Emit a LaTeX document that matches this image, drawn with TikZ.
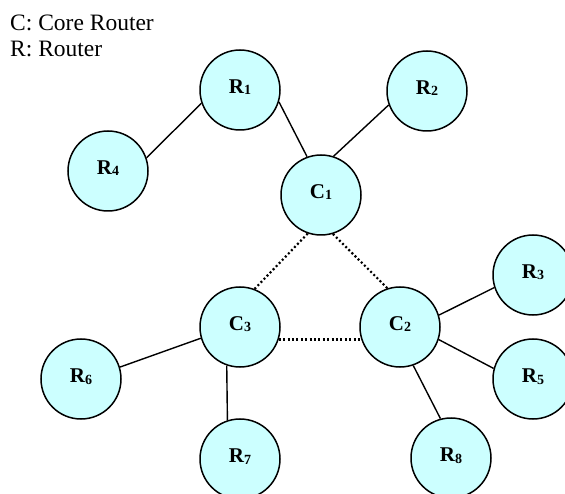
\documentclass[tikz,border=0pt]{standalone}
\usepackage{fontspec}
\setmainfont{Liberation Serif}
\definecolor{routerfill}{HTML}{CCFFFF}
\tikzset{
  router/.style={circle, draw=black, line width=1.5pt, fill=routerfill,
    minimum size=80pt, inner sep=0pt, text height=7pt, text depth=0pt,
    font=\fontsize{21}{22}\selectfont\bfseries},
  link/.style={line width=1.4pt},
  corelink/.style={line width=2.2pt, dash pattern=on 2pt off 2.4pt},
  legend/.style={anchor=base west, inner sep=0pt, font=\fontsize{23.5}{24}\selectfont},
}
% router name with a lowered index
\newcommand\rlab[2]{#1\raisebox{-1.5pt}{\fontsize{14}{14}\selectfont #2}}
\begin{document}
\begin{tikzpicture}[x=1pt,y=-1pt]
  \useasboundingbox (0,0) rectangle (565,494);

  % legend
  \node[legend] (legC) at (10,31) {C: Core Router};
  \node[legend] (legR) at (10,57) {R: Router};

  % core routers
  \node[router] (C1) at (321,195) {\rlab{C}{1}};
  \node[router] (C2) at (400,327) {\rlab{C}{2}};
  \node[router] (C3) at (240,327) {\rlab{C}{3}};

  % edge routers
  \node[router] (R1) at (240,90)  {\rlab{R}{1}};
  \node[router] (R2) at (427,91)  {\rlab{R}{2}};
  \node[router] (R3) at (533,275) {\rlab{R}{3}};
  \node[router] (R4) at (108,171) {\rlab{R}{4}};
  \node[router] (R5) at (533,379) {\rlab{R}{5}};
  \node[router] (R6) at (81,379)  {\rlab{R}{6}};
  \node[router] (R7) at (240,459) {\rlab{R}{7}};
  \node[router] (R8) at (451,458) {\rlab{R}{8}};

  % access links
  \draw[link] (R4.19)  -- (R1.199);
  \draw[link] (R1.-17) -- (C1.110);
  \draw[link] (C1.72)  -- (R2.200);
  \draw[link] (C2.17)  -- (R3.198);
  \draw[link] (C2.-18) -- (R5.165);
  \draw[link] (C2.-71) -- (R8.105);
  \draw[link] (C3.196) -- (R6.17);
  \draw[link] (C3.251) -- (R7.108);

  % core links
  \draw[corelink] (C1.251) -- (C3.69);
  \draw[corelink] (C1.287) -- (C2.108);
  \draw[corelink] (C3.-18) -- (C2.198);
\end{tikzpicture}
\end{document}
